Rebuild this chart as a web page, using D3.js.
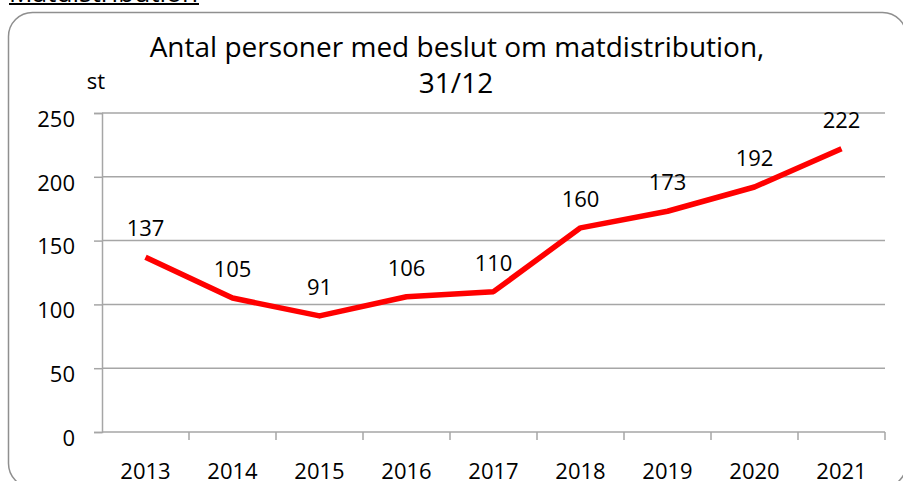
<!DOCTYPE html>
<html>
<head>
<meta charset="utf-8">
<script src="https://cdn.jsdelivr.net/npm/d3@7"></script>
<style>
  body { margin: 0; background: #fff; }
  svg { display: block; font-family: "Open Sans", sans-serif; }
</style>
</head>
<body>
<div id="chart"></div>
<script>
//************* data ***************/
var years = ["2013", "2014", "2015", "2016", "2017", "2018", "2019", "2020", "2021"];
var persons = [137, 105, 91, 106, 110, 160, 173, 192, 222];
var yTicks = [0, 50, 100, 150, 200, 250];

var data = years.map(function(y, i) { return {year: y, value: persons[i]}; });

//************* set dimensions ***************/
var W = 903, H = 481;
var margin = {left: 102, right: 18, top: 113, bottom: 49};
var width = W - margin.left - margin.right,
    height = H - margin.top - margin.bottom;

var svg = d3.select("#chart")
  .append("svg")
    .attr("width", W)
    .attr("height", H);

// heading of the page above the chart (cut off at top)
svg.append("text")
  .attr("x", 9)
  .attr("y", 2)
  .style("font-size", "25px")
  .attr("textLength", 189)
  .attr("lengthAdjust", "spacingAndGlyphs")
  .attr("fill", "#000")
  .text("Matdistribution");
svg.append("line")
  .attr("x1", 9).attr("x2", 199)
  .attr("y1", 4).attr("y2", 4)
  .attr("stroke", "#000")
  .attr("stroke-width", 2);

// chart frame
svg.append("rect")
  .attr("x", 8.5).attr("y", 12.5)
  .attr("width", 898).attr("height", 475)
  .attr("rx", 24).attr("ry", 24)
  .attr("fill", "none")
  .attr("stroke", "#8f8f8f")
  .attr("stroke-width", 1.5);

//***************** title *******************/
svg.append("text")
  .attr("x", 457).attr("y", 57)
  .attr("text-anchor", "middle")
  .style("font-size", "28px")
  .text("Antal personer med beslut om matdistribution,");
svg.append("text")
  .attr("x", 456).attr("y", 93)
  .attr("text-anchor", "middle")
  .style("font-size", "28px")
  .text("31/12");

svg.append("text")
  .attr("x", 96).attr("y", 89)
  .attr("text-anchor", "middle")
  .style("font-size", "22px")
  .text("st");

var g = svg.append("g")
  .attr("transform", "translate(" + margin.left + "," + margin.top + ")");

//************* scales ***************/
var x = d3.scaleBand()
  .domain(years)
  .range([0, width]);

var y = d3.scaleLinear()
  .domain([0, 250])
  .range([height, 0]);

// gridlines
g.selectAll(".grid")
  .data(yTicks.filter(function(d) { return d > 0; }))
  .enter().append("line")
    .attr("class", "grid")
    .attr("x1", 0).attr("x2", width)
    .attr("y1", function(d) { return y(d); })
    .attr("y2", function(d) { return y(d); })
    .attr("stroke", "#a6a6a6")
    .attr("stroke-width", 1.5);

// y axis
var yAxis = g.append("g")
  .call(d3.axisLeft(y).tickValues(yTicks).tickSize(8).tickPadding(19));
yAxis.select(".domain").attr("stroke", "#a6a6a6").attr("stroke-width", 1.5);
yAxis.selectAll(".tick line").attr("stroke", "#a6a6a6").attr("stroke-width", 1.5);
yAxis.selectAll(".tick text")
  .attr("fill", "#000")
  .attr("dy", "0.6em")
  .style("font-size", "22px")
  .style("font-family", "Open Sans, sans-serif");

// x axis: ticks on band edges
var xAxis = g.append("g")
  .attr("transform", "translate(0," + height + ")");
xAxis.append("line")
  .attr("x1", 0).attr("x2", width)
  .attr("stroke", "#a6a6a6").attr("stroke-width", 1.5);
xAxis.selectAll(".edge")
  .data(years)
  .enter().append("line")
    .attr("class", "edge")
    .attr("x1", function(d) { return x(d) + x.bandwidth(); })
    .attr("x2", function(d) { return x(d) + x.bandwidth(); })
    .attr("y1", 0).attr("y2", 8)
    .attr("stroke", "#a6a6a6").attr("stroke-width", 1.5);
xAxis.selectAll(".lbl")
  .data(years)
  .enter().append("text")
    .attr("class", "lbl")
    .attr("x", function(d) { return x(d) + x.bandwidth() / 2; })
    .attr("y", 47)
    .attr("text-anchor", "middle")
    .style("font-size", "22px")
    .text(function(d) { return d; });

//************* line ***************/
var line = d3.line()
  .x(function(d) { return x(d.year) + x.bandwidth() / 2; })
  .y(function(d) { return y(d.value); });

g.append("path")
  .datum(data)
  .attr("d", line)
  .attr("fill", "none")
  .attr("stroke", "#ff0000")
  .attr("stroke-width", 5.5)
  .attr("stroke-linejoin", "round");

// value labels
g.selectAll(".val")
  .data(data)
  .enter().append("text")
    .attr("class", "val")
    .attr("x", function(d) { return x(d.year) + x.bandwidth() / 2; })
    .attr("y", function(d) { return y(d.value) - 21; })
    .attr("text-anchor", "middle")
    .style("font-size", "22px")
    .text(function(d) { return d.value; });
</script>
</body>
</html>
